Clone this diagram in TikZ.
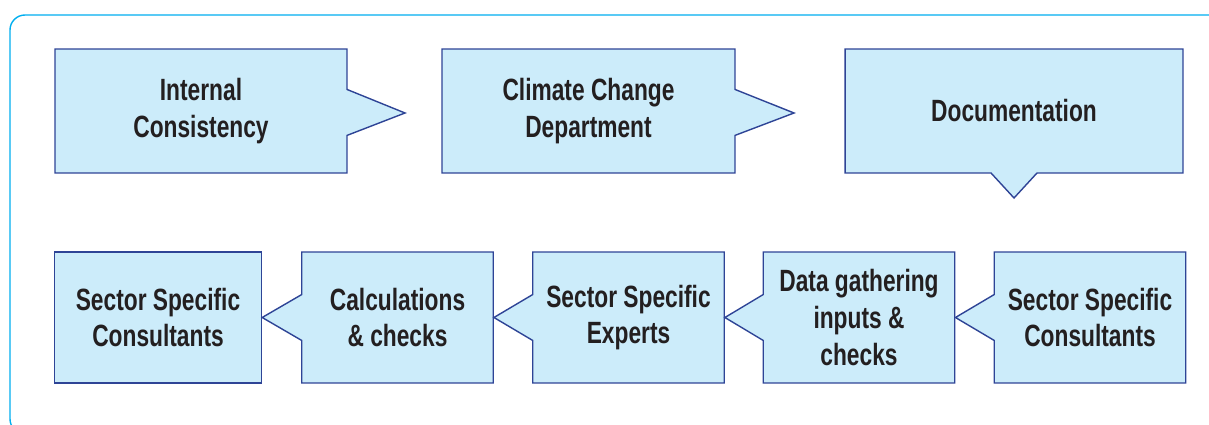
\documentclass[tikz,border=0pt]{standalone}
\usepackage{fontspec}
\usepackage{tikz}
\usetikzlibrary{shapes.callouts}
\newfontfamily\boxfont[FakeStretch=0.74]{Liberation Sans}
\definecolor{framecyan}{RGB}{0,174,239}
\definecolor{boxblue}{RGB}{204,236,250}
\definecolor{edgeblue}{RGB}{46,68,150}
\definecolor{inkgray}{RGB}{35,31,32}
\tikzset{
    plainbox/.style={rectangle, draw=edgeblue, line width=0.8pt,
        fill=boxblue, text=inkgray, align=center,
        font=\boxfont\bfseries\fontsize{17.5}{21}\selectfont},
    stagebox/.style={plainbox, rectangle callout,
        callout pointer width=0.92cm},
    toprow/.style={stagebox, minimum height=2.48cm},
    lowrow/.style={stagebox, minimum height=2.62cm, minimum width=3.83cm}
}

\begin{document}
\begin{tikzpicture}[x=0.02cm, y=-0.02cm]
    \clip (0,0) rectangle (1209,425);
    \useasboundingbox (0,0) rectangle (1209,425);
    \draw[framecyan, line width=0.8pt, rounded corners=0.3cm]
        (10,15) rectangle (1260,434);

    % top row
    \node[toprow, minimum width=5.84cm, callout absolute pointer={(405,113)}]
        (internal) at (201,111) {Internal\\Consistency};
    \node[toprow, minimum width=5.86cm, callout absolute pointer={(794,113)}]
        (climate) at (588.5,111) {Climate Change\\Department};
    \node[toprow, minimum width=6.76cm, callout absolute pointer={(1014,198)}]
        (docs) at (1014,111) {Documentation};

    % bottom row, right to left
    \node[plainbox, minimum height=2.62cm, minimum width=4.14cm]
        (consultA) at (158,317.5) {Sector Specific\\Consultants};
    \node[lowrow, callout absolute pointer={(consultA.east)}]
        (calc) at (397.5,317.5) {Calculations\\\& checks};
    \node[lowrow, callout absolute pointer={(calc.east)}]
        (experts) at (628.5,317.5) {Sector Specific\\Experts};
    \node[lowrow, callout absolute pointer={(experts.east)}]
        (gather) at (859,317.5) {Data gathering\\inputs \&\\checks};
    \node[lowrow, callout absolute pointer={(gather.east)}]
        (consultB) at (1090,317.5) {Sector Specific\\Consultants};
\end{tikzpicture}
\end{document}
